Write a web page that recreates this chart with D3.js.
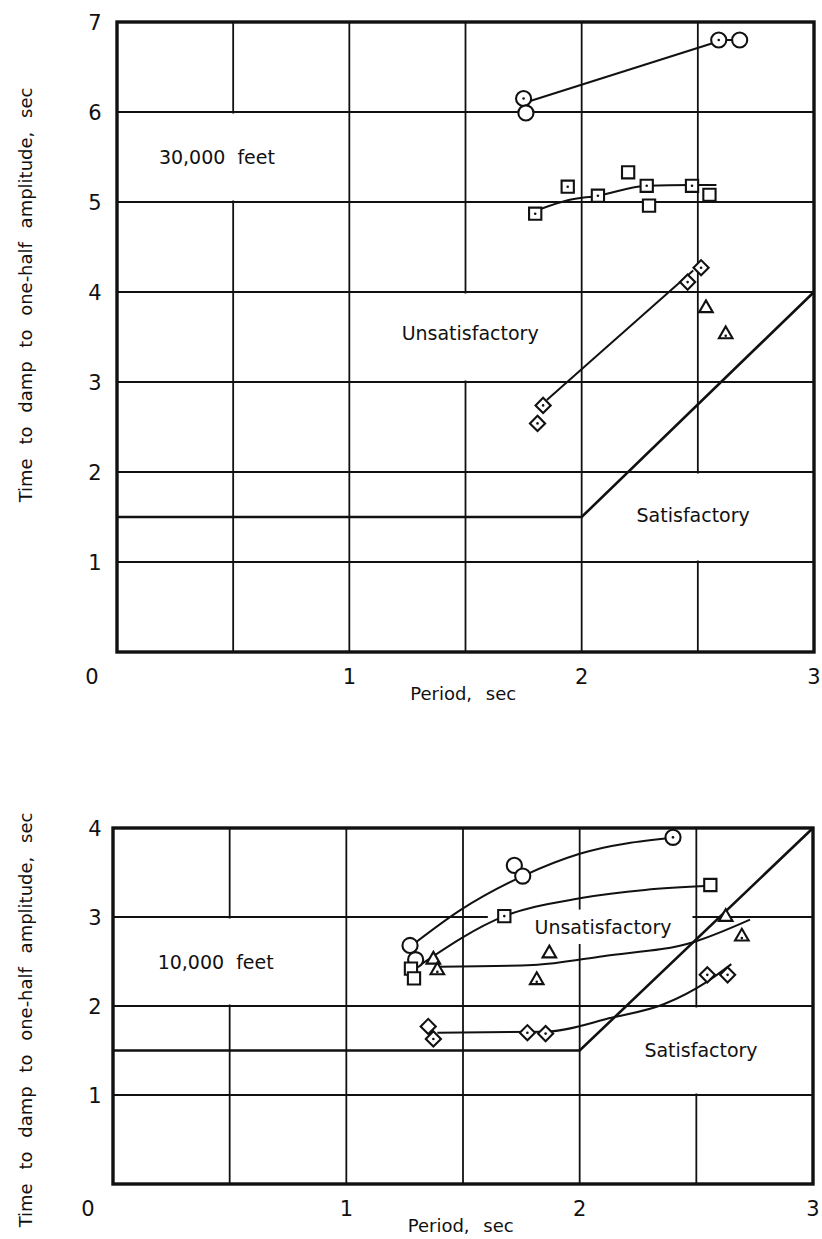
<!DOCTYPE html>
<html>
<head>
<meta charset="utf-8">
<script src="https://cdn.jsdelivr.net/npm/d3@7"></script>
<style>
  body { margin: 0; background: #fff; }
  svg { display: block; }
  text { font-family: 'DejaVu Sans', sans-serif; fill: #111; }
  .tick-label { font-size: 21px; }
  .axis-title { font-size: 18px; word-spacing: 8px; }
  .region-label { font-size: 19px; }
</style>
</head>
<body>
<svg id="fig"></svg>
<script>
// x ticks (period, sec)
const periodTicks = [0, 1, 2, 3]
const highTicks = [1, 2, 3, 4, 5, 6, 7]
const lowTicks = [1, 2, 3, 4]

// boundary between satisfactory / unsatisfactory
const boundary = [[0, 1.5], [2, 1.5], [3, 4]]

// 30,000 feet   [period, time, dotted center]
const highCircles = [[1.75, 6.15, 1], [1.76, 5.99, 0], [2.59, 6.80, 1], [2.68, 6.80, 0]]
const highSquares = [[1.80, 4.87, 1], [1.94, 5.17, 1], [2.07, 5.07, 1], [2.20, 5.33, 0],
                     [2.28, 5.18, 1], [2.29, 4.96, 0], [2.475, 5.18, 1], [2.55, 5.08, 0]]
const highDiamonds = [[1.81, 2.54, 1], [1.834, 2.74, 1], [2.456, 4.11, 1], [2.514, 4.27, 1]]
const highTriangles = [[2.535, 3.82, 0], [2.62, 3.53, 1]]

const highCircleFair = [[1.775, 6.12], [2.57, 6.77]]
const highCircleLink = [[2.59, 6.80], [2.68, 6.80]]
const highSquareFair = [[1.82, 4.92], [1.94, 5.02], [2.07, 5.07], [2.28, 5.18], [2.47, 5.19], [2.58, 5.19]]
const highDiamondFair = [[1.85, 2.80], [2.48, 4.24]]

// 10,000 feet
const lowCircles = [[1.273, 2.68, 0], [1.297, 2.52, 0], [1.72, 3.58, 0], [1.756, 3.46, 0], [2.40, 3.895, 1]]
const lowSquares = [[1.277, 2.42, 0], [1.29, 2.31, 0], [1.677, 3.01, 1], [2.56, 3.36, 0]]
const lowTriangles = [[1.373, 2.52, 0], [1.39, 2.40, 1], [1.816, 2.29, 1], [1.87, 2.59, 0],
                      [2.626, 3.00, 0], [2.695, 2.78, 1]]
const lowDiamonds = [[1.351, 1.77, 0], [1.373, 1.63, 1], [1.776, 1.70, 1], [1.854, 1.69, 1],
                     [2.547, 2.35, 1], [2.634, 2.35, 1]]

const lowCircleFair = [[1.29, 2.70], [1.49, 3.08], [1.756, 3.46], [2.0, 3.71], [2.40, 3.89]]
const lowSquareFair = [[1.31, 2.45], [1.677, 3.01], [2.0, 3.21], [2.56, 3.35]]
const lowTriangleFair = [[1.40, 2.44], [1.8, 2.46], [2.1, 2.56], [2.49, 2.72], [2.73, 2.97]]
const lowDiamondFair = [[1.39, 1.70], [1.85, 1.71], [2.14, 1.87], [2.36, 2.02], [2.55, 2.28], [2.65, 2.47]]

const svg = d3.select('#fig').attr('width', 822).attr('height', 1239)

class DampChart {

    constructor(_config) {
        this.config = _config
        this.initVis()
    }

    initVis() {
        let vis = this
        let c = vis.config

        vis.xScale = d3.scaleLinear().domain([0, 3]).range([c.left, c.right])
        vis.yScale = d3.scaleLinear().domain([0, c.yMax]).range([c.bottom, c.top])

        vis.g = svg.append('g')

        //grid: every half second, every second
        vis.g.selectAll('.vgrid')
            .data(d3.range(0.5, 3, 0.5))
            .join('line')
            .attr('x1', d => vis.xScale(d)).attr('x2', d => vis.xScale(d))
            .attr('y1', c.top).attr('y2', c.bottom)
            .attr('stroke', '#111').attr('stroke-width', 1.8)

        vis.g.selectAll('.hgrid')
            .data(d3.range(1, c.yMax))
            .join('line')
            .attr('x1', c.left).attr('x2', c.right)
            .attr('y1', d => vis.yScale(d)).attr('y2', d => vis.yScale(d))
            .attr('stroke', '#111').attr('stroke-width', 2.2)

        //blank boxes where labels sit
        vis.g.selectAll('.blank')
            .data(c.blanks)
            .join('rect')
            .attr('x', d => vis.xScale(d[0]) + 1.5)
            .attr('y', d => vis.yScale(d[3]) + 1.5)
            .attr('width', d => vis.xScale(d[1]) - vis.xScale(d[0]) - 3)
            .attr('height', d => vis.yScale(d[2]) - vis.yScale(d[3]) - 3)
            .attr('fill', '#fff')

        let line = d3.line().x(d => vis.xScale(d[0])).y(d => vis.yScale(d[1]))

        vis.g.append('path')
            .attr('d', line(boundary))
            .attr('fill', 'none').attr('stroke', '#111').attr('stroke-width', 2.6)

        vis.g.append('rect')
            .attr('x', c.left).attr('y', c.top)
            .attr('width', c.right - c.left).attr('height', c.bottom - c.top)
            .attr('fill', 'none').attr('stroke', '#111').attr('stroke-width', 3.4)

        let fair = d3.line().curve(d3.curveMonotoneX)
            .x(d => vis.xScale(d[0])).y(d => vis.yScale(d[1]))

        c.fairings.forEach(f => {
            vis.g.append('path')
                .attr('d', fair(f))
                .attr('fill', 'none').attr('stroke', '#111').attr('stroke-width', 2)
        })

        //markers
        const shapes = {
            circle: d3.symbol(d3.symbolCircle, 180),
            square: d3.symbol(d3.symbolSquare, 150),
            diamond: d3.symbol(d3.symbolSquare, 115),
            triangle: d3.symbol(d3.symbolTriangle, 80)
        }
        c.markers.forEach(m => {
            let grp = vis.g.append('g')
            grp.selectAll('path')
                .data(m.data)
                .join('path')
                .attr('d', shapes[m.shape]())
                .attr('transform', d => `translate(${vis.xScale(d[0])},${vis.yScale(d[1])})` +
                    (m.shape === 'diamond' ? ' rotate(45)' : ''))
                .attr('fill', '#fff').attr('stroke', '#111').attr('stroke-width', 2.1)
            grp.selectAll('circle')
                .data(m.data.filter(d => d[2]))
                .join('circle')
                .attr('cx', d => vis.xScale(d[0]))
                .attr('cy', d => vis.yScale(d[1]) + (m.shape === 'triangle' ? 1.5 : 0))
                .attr('r', 1.3).attr('fill', '#111')
        })

        //tick labels
        vis.g.selectAll('.ylab')
            .data(c.yTicks)
            .join('text')
            .attr('class', 'tick-label')
            .attr('x', 95).attr('y', d => vis.yScale(d))
            .attr('dy', '0.36em').attr('text-anchor', 'middle')
            .text(d => d)

        vis.g.selectAll('.xlab')
            .data(periodTicks)
            .join('text')
            .attr('class', 'tick-label')
            .attr('x', d => d === 0 ? c.left - 25 : vis.xScale(d))
            .attr('y', c.bottom + 24)
            .attr('dy', '0.36em').attr('text-anchor', 'middle')
            .text(d => d)

        vis.g.append('text')
            .attr('class', 'axis-title')
            .attr('x', vis.xScale(1.49)).attr('y', c.bottom + 42)
            .attr('dy', '0.36em').attr('text-anchor', 'middle')
            .text('Period, sec')

        vis.g.append('text')
            .attr('class', 'axis-title')
            .attr('transform', `translate(26,${c.yLabelMid}) rotate(-90)`)
            .attr('dy', '0.36em').attr('text-anchor', 'middle')
            .text('Time to damp to one-half amplitude, sec')

        vis.g.selectAll('.region')
            .data(c.labels)
            .join('text')
            .attr('class', 'region-label')
            .attr('x', d => vis.xScale(d[1])).attr('y', d => vis.yScale(d[2]))
            .attr('dy', '0.36em').attr('text-anchor', 'middle')
            .style('word-spacing', '6px')
            .text(d => d[0])
    }
}

new DampChart({
    left: 117, right: 814, top: 22, bottom: 652, yMax: 7, yLabelMid: 295,
    yTicks: highTicks,
    blanks: [[0.1, 0.9, 5, 6], [1.1, 1.9, 3, 4], [2, 3, 1, 2]],
    fairings: [highCircleFair, highCircleLink, highSquareFair, highDiamondFair],
    markers: [
        {shape: 'circle', data: highCircles},
        {shape: 'square', data: highSquares},
        {shape: 'diamond', data: highDiamonds},
        {shape: 'triangle', data: highTriangles}
    ],
    labels: [['30,000 feet', 0.43, 5.5], ['Unsatisfactory', 1.52, 3.54], ['Satisfactory', 2.48, 1.52]]
})

new DampChart({
    left: 113, right: 813, top: 828, bottom: 1184, yMax: 4, yLabelMid: 1020,
    yTicks: lowTicks,
    blanks: [[0.1, 0.9, 2, 3], [1.6, 2.49, 2.68, 3.1], [2, 3, 1, 2]],
    fairings: [lowCircleFair, lowSquareFair, lowTriangleFair, lowDiamondFair],
    markers: [
        {shape: 'circle', data: lowCircles},
        {shape: 'square', data: lowSquares},
        {shape: 'diamond', data: lowDiamonds},
        {shape: 'triangle', data: lowTriangles}
    ],
    labels: [['10,000 feet', 0.44, 2.49], ['Unsatisfactory', 2.1, 2.89], ['Satisfactory', 2.52, 1.5]]
})
</script>
</body>
</html>
